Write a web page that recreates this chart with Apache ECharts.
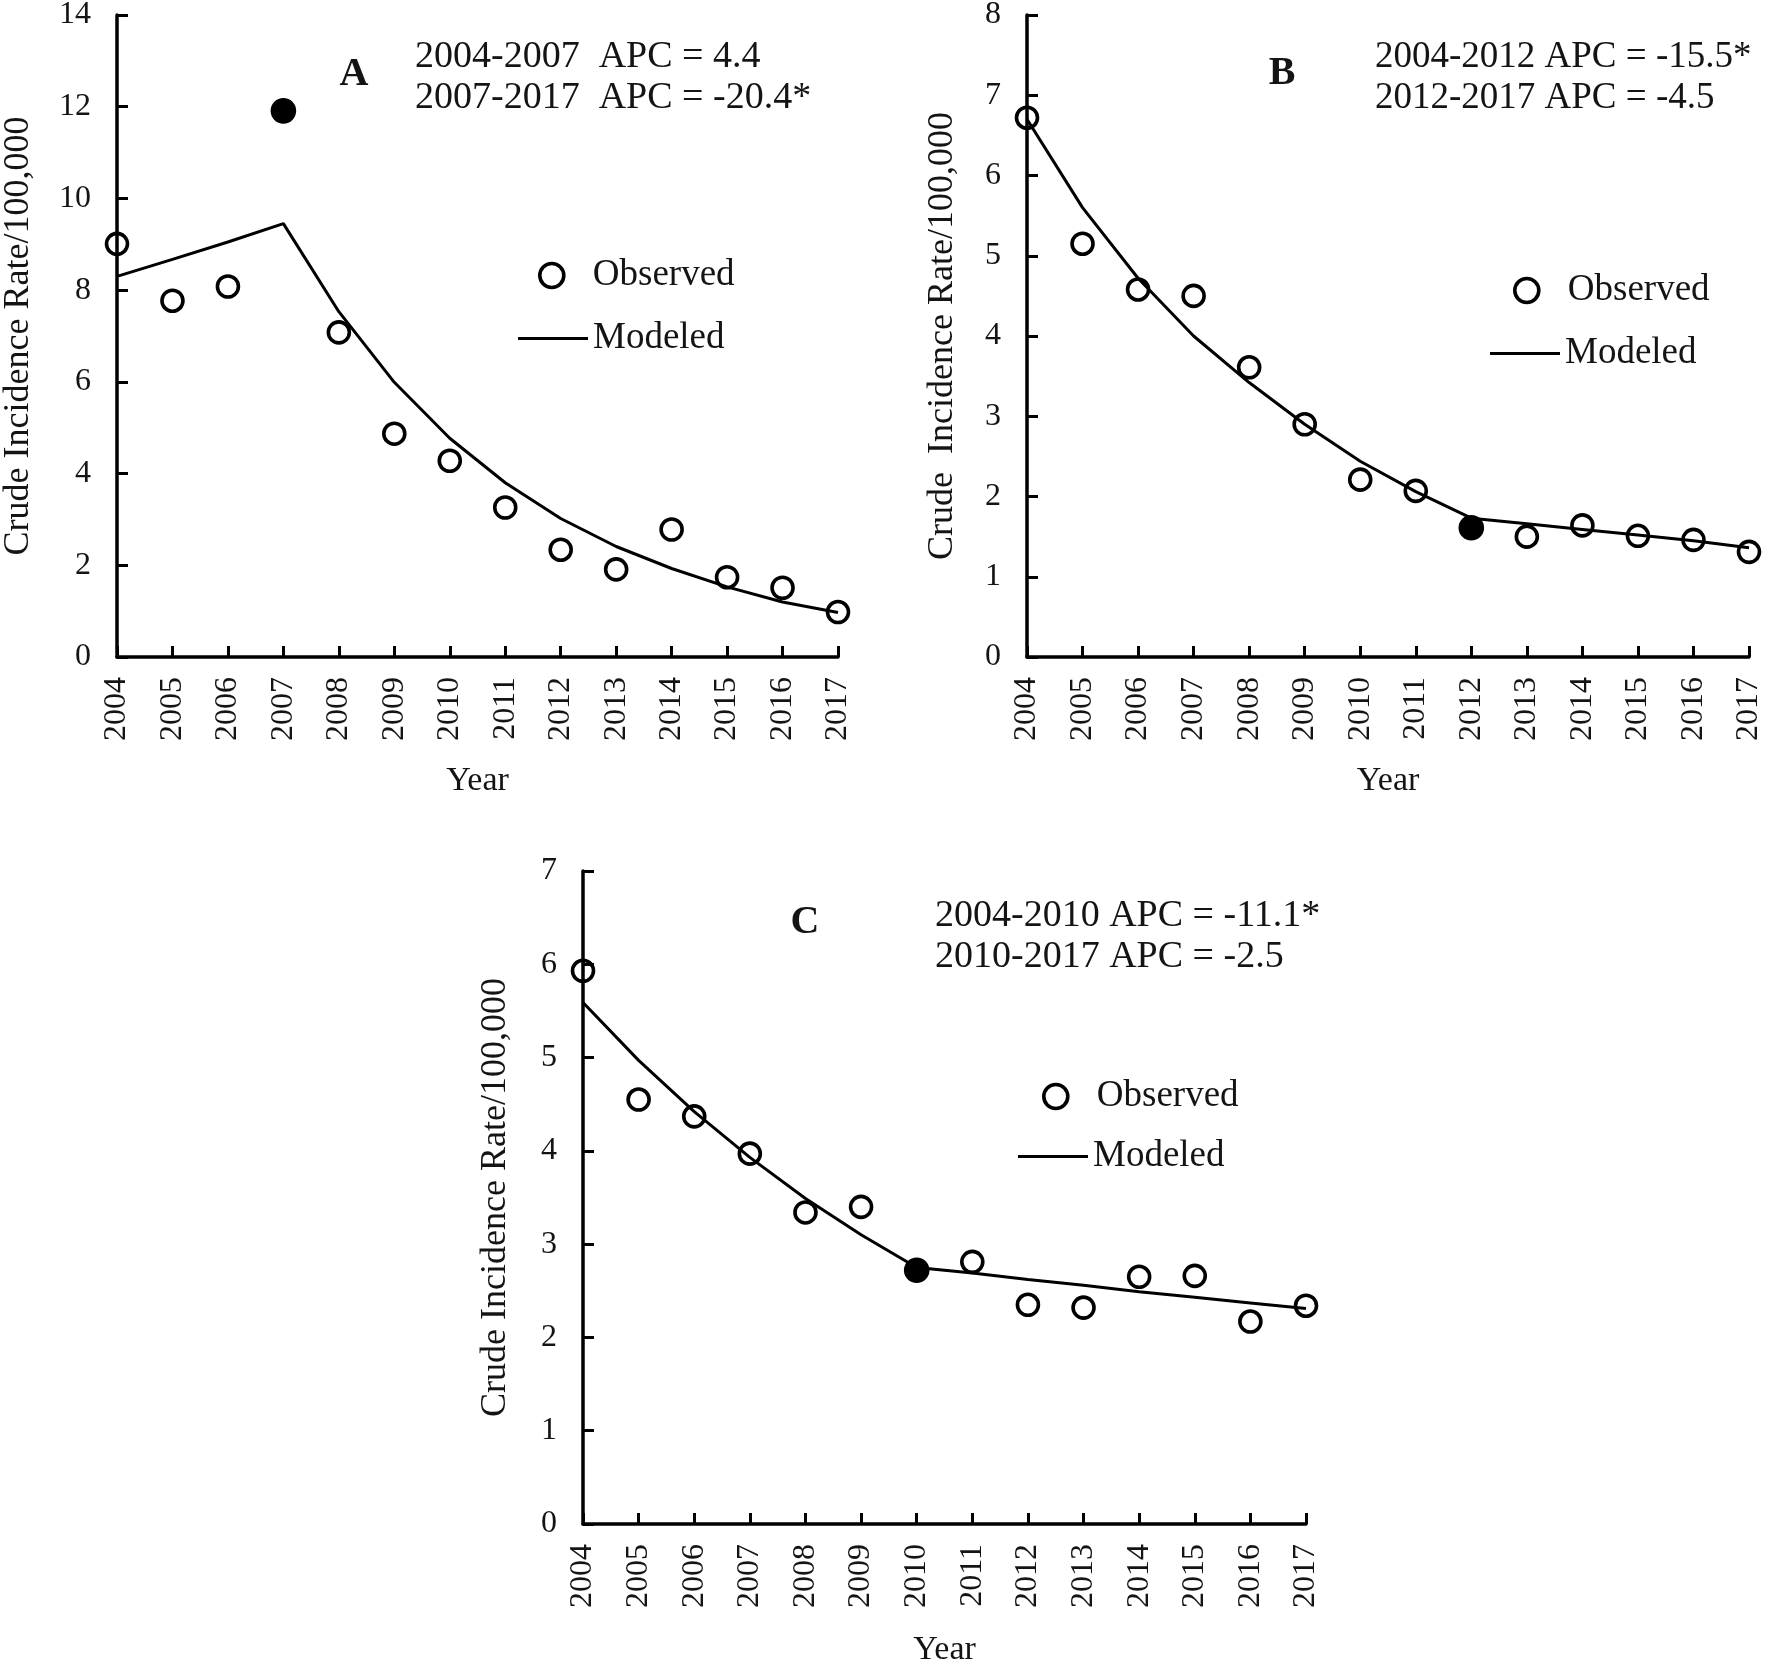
<!DOCTYPE html>
<html>
<head>
<meta charset="utf-8">
<script src="https://cdn.jsdelivr.net/npm/echarts@6/dist/echarts.min.js"></script>
<style>
html,body{margin:0;padding:0;background:#fff;}
#chart{width:1770px;height:1666px;}
</style>
</head>
<body>
<div id="chart"></div>
<script>
// ---- data ----
const years = ['2004','2005','2006','2007','2008','2009','2010','2011','2012','2013','2014','2015','2016','2017'];

const obsA = [9.01, 7.77, 8.08, 11.91, 7.08, 4.87, 4.28, 3.26, 2.34, 1.91, 2.78, 1.74, 1.51, 0.98];
const modA = [8.30, 8.67, 9.05, 9.45, 7.53, 5.99, 4.77, 3.80, 3.02, 2.41, 1.93, 1.53, 1.20, 0.97];
const joinA = '2007';

const obsB = [6.72, 5.15, 4.58, 4.50, 3.61, 2.90, 2.21, 2.07, 1.61, 1.50, 1.64, 1.51, 1.46, 1.31];
const modB = [6.70, 5.60, 4.72, 4.00, 3.42, 2.90, 2.44, 2.06, 1.73, 1.66, 1.59, 1.52, 1.45, 1.36];
const joinB = '2012';

const obsC = [5.93, 4.55, 4.37, 3.97, 3.34, 3.40, 2.72, 2.81, 2.35, 2.32, 2.65, 2.66, 2.17, 2.34];
const modC = [5.59, 4.97, 4.42, 3.93, 3.49, 3.10, 2.75, 2.69, 2.62, 2.56, 2.49, 2.43, 2.37, 2.31];
const joinC = '2010';

const yMaxA = 14, yStepA = 2;
const yMaxB = 8,  yStepB = 1;
const yMaxC = 7,  yStepC = 1;

const letters = ['A', 'B', 'C'];
const apcA = ['2004-2007  APC = 4.4', '2007-2017  APC = -20.4*'];
const apcB = ['2004-2012 APC = -15.5*', '2012-2017 APC = -4.5'];
const apcC = ['2004-2010 APC = -11.1*', '2010-2017 APC = -2.5'];
const yTitleA = 'Crude Incidence Rate/100,000';
const yTitleB = 'Crude  Incidence Rate/100,000';
const yTitleC = 'Crude Incidence Rate/100,000';
const xTitle = 'Year';
const obsName = 'Observed';
const modName = 'Modeled';

// ---- layout / style ----
const FONT = '"Liberation Serif", "Times New Roman", serif';
const INK = '#141414';
const grids = [
  {left: 117, top: 15, width: 721, height: 642, outerBoundsMode: 'none', containLabel: false},
  {left: 1027, top: 15, width: 722, height: 642, outerBoundsMode: 'none', containLabel: false},
  {left: 583, top: 871, width: 723, height: 653, outerBoundsMode: 'none', containLabel: false}
];
const yNameGap = [80, 66, 69];
const xNameGap = [107, 107, 109];

function xAxisFor(i) {
  return {
    type: 'category', gridIndex: i, data: years, boundaryGap: false,
    name: xTitle, nameLocation: 'middle', nameGap: xNameGap[i], nameMoveOverlap: false,
    nameTextStyle: {fontFamily: FONT, fontSize: 34, color: INK},
    axisLine: {lineStyle: {color: '#000', width: 3.5}},
    axisTick: {inside: true, length: 11, lineStyle: {color: '#000', width: 3}, alignWithLabel: true},
    axisLabel: {rotate: 90, margin: 20, fontFamily: FONT, fontSize: 32, color: INK, interval: 0},
    splitLine: {show: false}
  };
}
function yAxisFor(i, max, step, title) {
  return {
    type: 'value', gridIndex: i, min: 0, max: max, interval: step,
    name: title, nameLocation: 'middle', nameGap: yNameGap[i], nameMoveOverlap: false,
    nameTextStyle: {fontFamily: FONT, fontSize: 36, color: INK},
    axisLine: {show: true, lineStyle: {color: '#000', width: 3.5}},
    axisTick: {show: true, inside: true, length: 11, lineStyle: {color: '#000', width: 3}},
    axisLabel: {margin: 26, fontFamily: FONT, fontSize: 32, color: INK},
    splitLine: {show: false}
  };
}
function obsData(arr, joinYear) {
  return arr.map((v, k) => years[k] === joinYear
    ? {value: v, symbolSize: 22, itemStyle: {color: '#000', borderColor: '#000'}}
    : v);
}
function seriesFor(i, obs, mod, joinYear) {
  return [
    {
      name: modName, type: 'line', xAxisIndex: i, yAxisIndex: i, data: mod,
      symbol: 'none', lineStyle: {color: '#000', width: 3}, itemStyle: {color: '#000'}, z: 2, silent: true
    },
    {
      name: obsName, type: 'scatter', xAxisIndex: i, yAxisIndex: i, data: obsData(obs, joinYear),
      symbol: 'circle', symbolSize: 21,
      itemStyle: {color: 'rgba(0,0,0,0)', borderColor: '#000', borderWidth: 3.6, opacity: 1},
      z: 3, silent: true
    }
  ];
}

const legendObsPos = [{left: 538, top: 257}, {left: 1513, top: 272}, {left: 1042, top: 1078}];
const legendModPos = [{left: 518, top: 320}, {left: 1490, top: 335}, {left: 1018, top: 1138}];
const legends = [];
for (let i = 0; i < 3; i++) {
  legends.push({
    data: [{name: obsName, icon: 'circle'}], orient: 'vertical',
    left: legendObsPos[i].left, top: legendObsPos[i].top,
    padding: 0, itemWidth: 24, itemHeight: 24, selectedMode: false,
    itemStyle: {color: 'rgba(0,0,0,0)', borderColor: '#000', borderWidth: 3.6},
    textStyle: {fontFamily: FONT, fontSize: 37, color: INK, padding: [0, 0, 0, 24]}
  });
  legends.push({
    data: [{name: modName, icon: 'rect'}], orient: 'vertical',
    left: legendModPos[i].left, top: legendModPos[i].top,
    padding: 0, itemWidth: 70, itemHeight: 3, selectedMode: false,
    itemStyle: {color: '#000', borderWidth: 0},
    textStyle: {fontFamily: FONT, fontSize: 37, color: INK, padding: [0, 0, 0, 0]}
  });
}

const letterPos = [[354, 75], [1282, 74], [805, 923]];
const apcPos = [[415, 37], [1375, 37], [935, 896]];
const apcSize = [38, 37, 38];
const apcTexts = [apcA, apcB, apcC];
const graphics = [];
for (let i = 0; i < 3; i++) {
  graphics.push({
    type: 'text', x: letterPos[i][0], y: letterPos[i][1], silent: true,
    style: {text: letters[i], fontFamily: FONT, fontWeight: 'bold', fontSize: 40, fill: INK,
            textAlign: 'center', textVerticalAlign: 'middle'}
  });
  graphics.push({
    type: 'text', x: apcPos[i][0], y: apcPos[i][1], silent: true,
    style: {text: apcTexts[i].join('\n'), fontFamily: FONT, fontSize: apcSize[i], lineHeight: 41, fill: INK,
            textAlign: 'left', textVerticalAlign: 'top'}
  });
}

const option = {
  backgroundColor: '#fff',
  animation: false,
  grid: grids,
  xAxis: [xAxisFor(0), xAxisFor(1), xAxisFor(2)],
  yAxis: [yAxisFor(0, yMaxA, yStepA, yTitleA), yAxisFor(1, yMaxB, yStepB, yTitleB), yAxisFor(2, yMaxC, yStepC, yTitleC)],
  legend: legends,
  graphic: graphics,
  series: [].concat(seriesFor(0, obsA, modA, joinA), seriesFor(1, obsB, modB, joinB), seriesFor(2, obsC, modC, joinC))
};

const chart = echarts.init(document.getElementById('chart'), null, {renderer: 'canvas'});
chart.setOption(option);
</script>
</body>
</html>
